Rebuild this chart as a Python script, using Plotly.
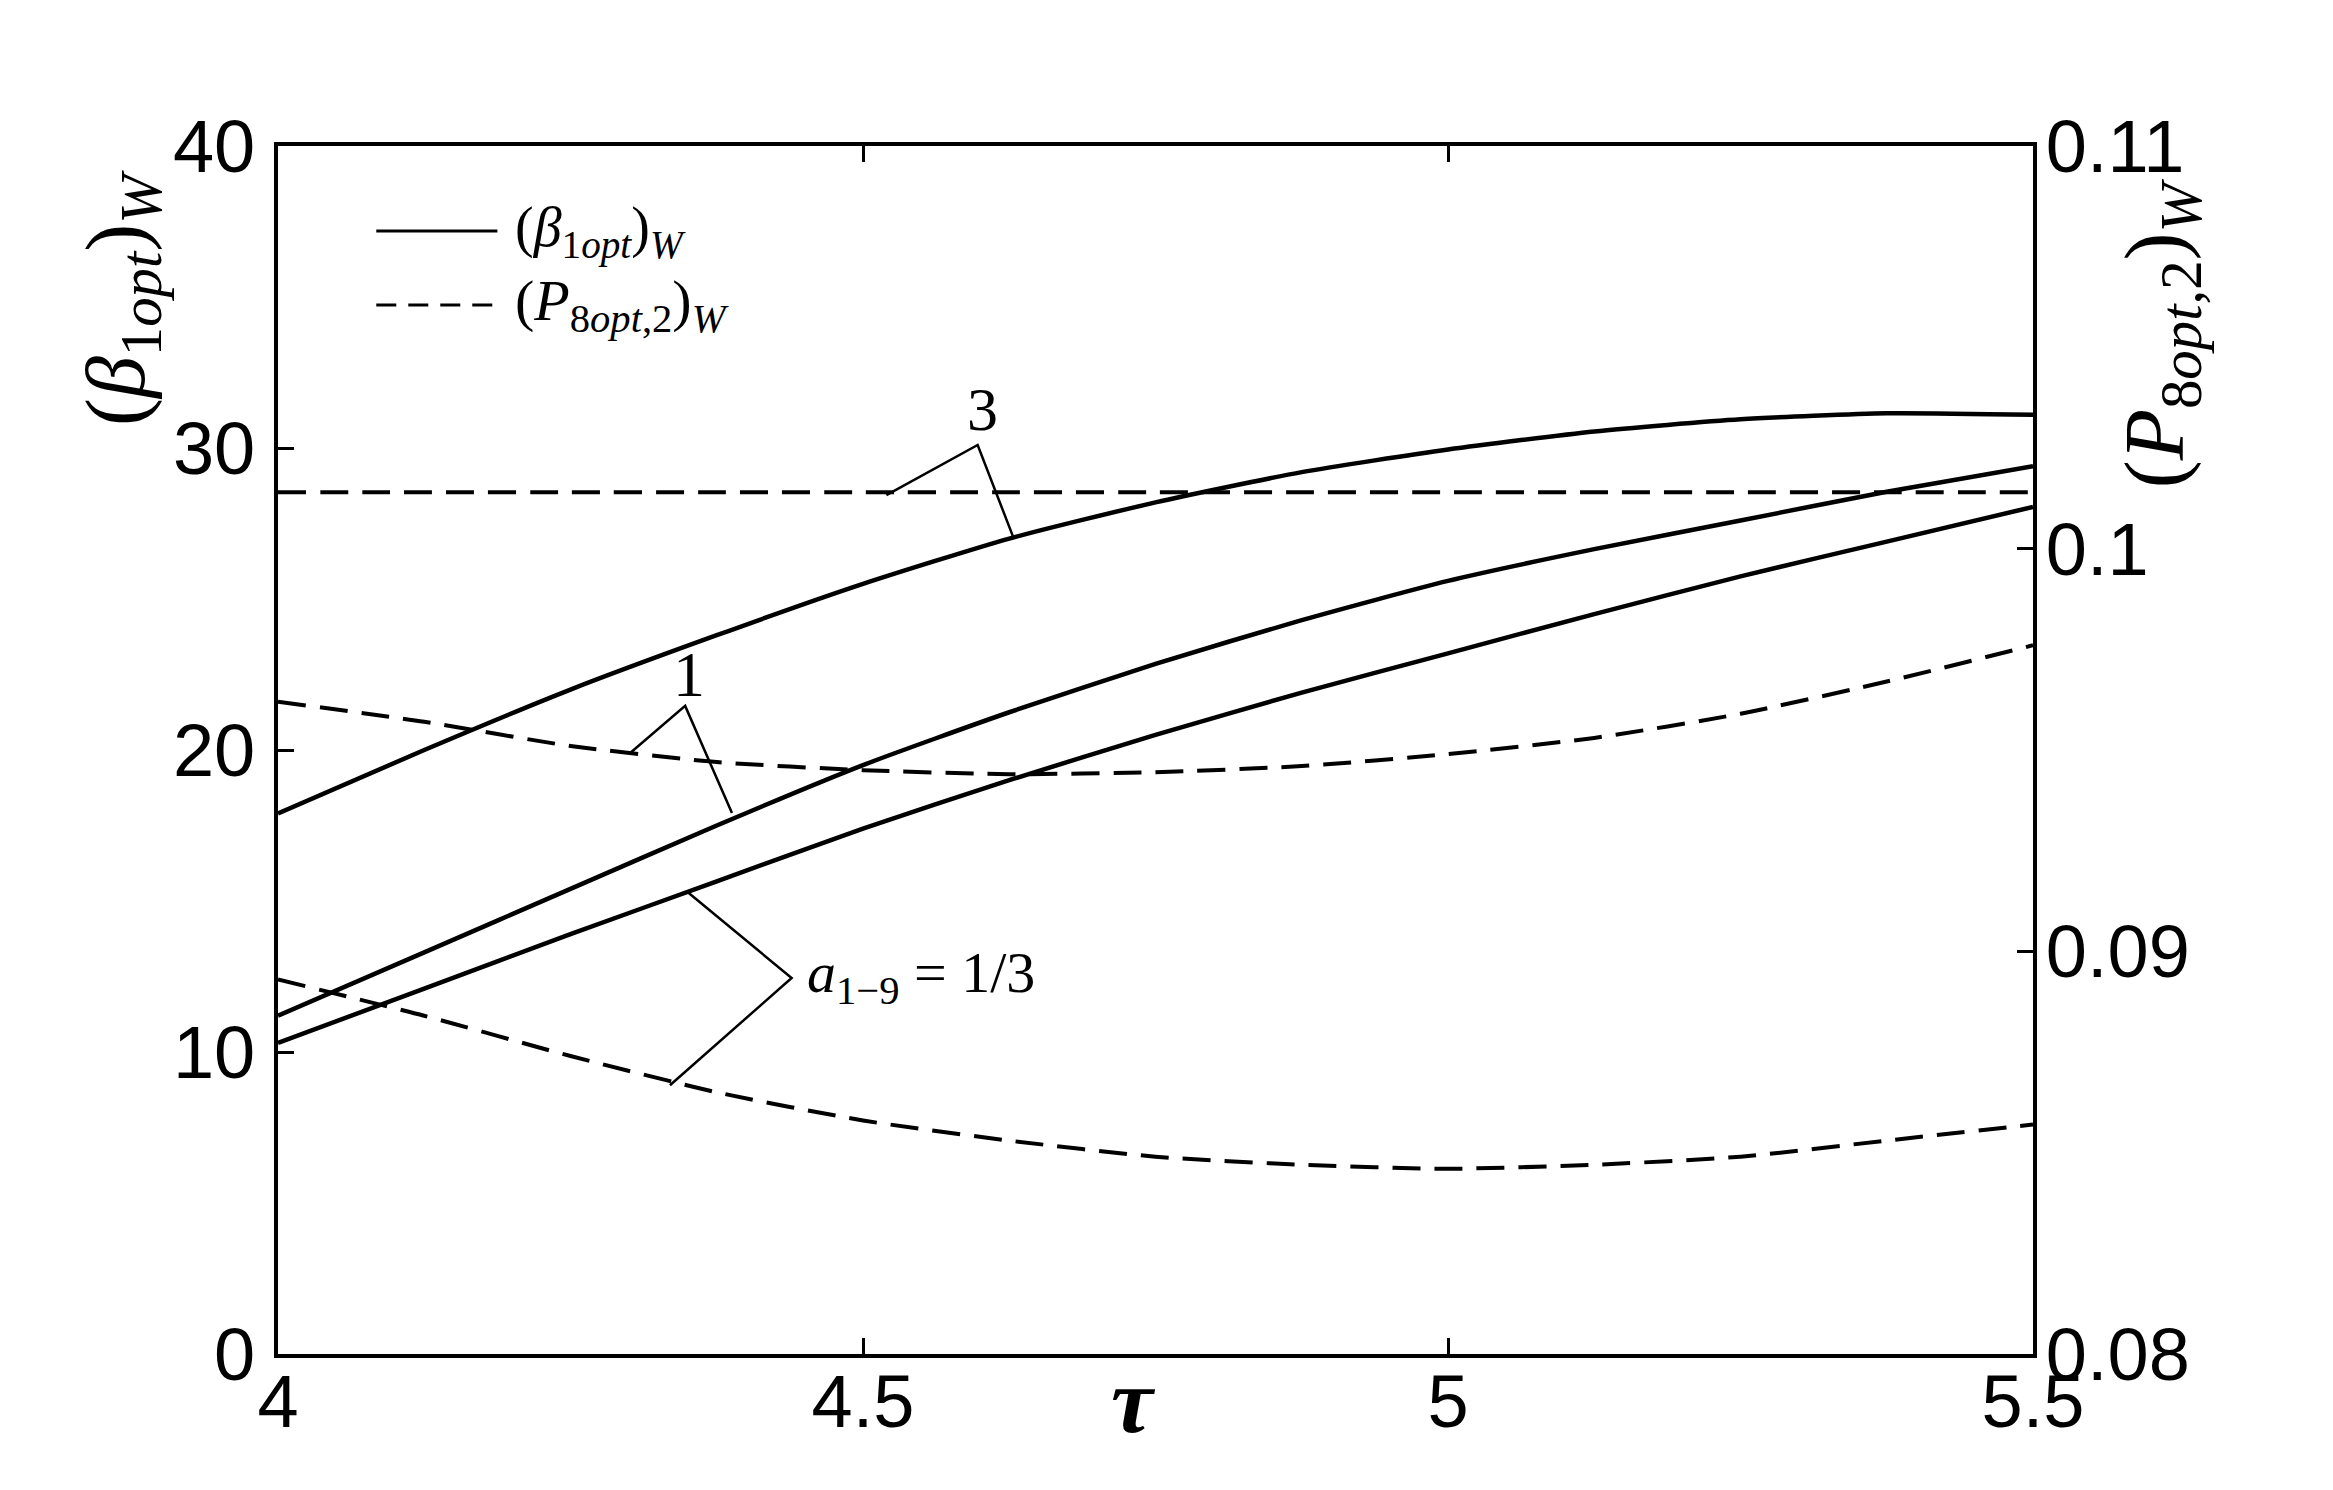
import plotly.graph_objects as go

# tau grid (x axis)
tau = [4.0, 4.125, 4.25, 4.375, 4.5, 4.625, 4.75, 4.875, 5.0, 5.125, 5.25, 5.375, 5.5]

# (beta_1opt)_W, left axis
beta_3 = [17.9, 20.0, 22.0, 23.8, 25.5, 27.0, 28.2, 29.2, 29.95, 30.55, 30.95, 31.15, 31.1]
beta_1 = [11.2, 13.3, 15.4, 17.5, 19.5, 21.25, 22.85, 24.3, 25.6, 26.65, 27.6, 28.55, 29.4]
beta_13 = [10.3, 12.1, 13.9, 15.65, 17.4, 19.0, 20.5, 21.9, 23.2, 24.5, 25.75, 26.9, 28.05]

# (P_8opt,2)_W, right axis
p_3 = [0.1014, 0.1014, 0.1014, 0.1014, 0.1014, 0.1014, 0.1014,
       0.1014, 0.1014, 0.1014, 0.1014, 0.1014, 0.1014]
p_1 = [0.0962, 0.0957, 0.0951, 0.0947, 0.0945, 0.0944, 0.09445,
       0.0946, 0.0949, 0.0953, 0.0959, 0.0967, 0.0976]
p_13 = [0.0893, 0.0884, 0.0874, 0.0865, 0.0858, 0.0853, 0.0849,
        0.0847, 0.0846, 0.0847, 0.0849, 0.0853, 0.0857]

x_ticks = [4, 4.5, 5, 5.5]
x_ticktext = ["4", "4.5", "5", "5.5"]
y_ticks = [0, 10, 20, 30, 40]
y2_ticks = [0.08, 0.09, 0.1, 0.11]
y2_ticktext = ["0.08", "0.09", "0.1", "0.11"]

SERIF = "Liberation Serif, Times New Roman, serif"
SANS = "Liberation Sans, Arial, sans-serif"
DASH = "28px,14px"
BETA_NAME = "(<i>β</i><sub>1<i>opt</i></sub>)<sub><i>W</i></sub>"
P_NAME = "(<i>P</i><sub>8<i>opt</i>,2</sub>)<sub><i>W</i></sub>"

fig = go.Figure()

for b in [beta_3, beta_1, beta_13]:
    fig.add_trace(go.Scatter(
        x=tau, y=b, mode="lines", yaxis="y", name=BETA_NAME, showlegend=False,
        line=dict(color="black", width=4.5, shape="spline", smoothing=0.6),
    ))

for p in [p_3, p_1, p_13]:
    fig.add_trace(go.Scatter(
        x=tau, y=p, mode="lines", yaxis="y2", name=P_NAME, showlegend=False,
        line=dict(color="black", width=4, dash=DASH, shape="spline", smoothing=0.6),
    ))

# legend, drawn by hand so the sample lines are long like the original
fig.add_shape(type="line", xref="paper", yref="paper", x0=0.056, x1=0.125,
              y0=0.9296, y1=0.9296, line=dict(color="black", width=3))
fig.add_shape(type="line", xref="paper", yref="paper", x0=0.056, x1=0.125,
              y0=0.8684, y1=0.8684, line=dict(color="black", width=3, dash="20px,12px"))
fig.add_annotation(x=0.134, y=0.9296, xref="paper", yref="paper", xanchor="left",
                   yanchor="middle", text=BETA_NAME, showarrow=False,
                   font=dict(family=SERIF, size=56, color="black"))
fig.add_annotation(x=0.134, y=0.8684, xref="paper", yref="paper", xanchor="left",
                   yanchor="middle", text=P_NAME, showarrow=False,
                   font=dict(family=SERIF, size=58, color="black"))

# leader lines for curve labels (left-axis data coords)
leaders = [
    "M 4.520 28.44 L 4.598 30.1 L 4.628 27.09",
    "M 4.301 19.9 L 4.348 21.46 L 4.388 17.91",
    "M 4.350 15.3 L 4.439 12.45 L 4.335 8.9",
]
for path in leaders:
    fig.add_shape(type="path", path=path, xref="x", yref="y",
                  line=dict(color="black", width=2.5))

fig.add_annotation(x=4.602, y=31.3, xref="x", yref="y", text="3", showarrow=False,
                   xanchor="center", yanchor="middle",
                   font=dict(family=SERIF, size=62, color="black"))
fig.add_annotation(x=4.351, y=22.5, xref="x", yref="y", text="1", showarrow=False,
                   xanchor="center", yanchor="middle",
                   font=dict(family=SERIF, size=64, color="black"))
fig.add_annotation(x=4.450, y=12.5, xref="x", yref="y", xanchor="left", yanchor="middle",
                   text="<i>a</i><sub>1−9</sub> = 1/3", showarrow=False,
                   font=dict(family=SERIF, size=58, color="black"))

# axis titles
fig.add_annotation(x=-0.089, y=0.874, xref="paper", yref="paper", textangle=-90,
                   xanchor="center", yanchor="middle", text=BETA_NAME,
                   showarrow=False, font=dict(family=SERIF, size=84, color="black"))
fig.add_annotation(x=1.073, y=0.845, xref="paper", yref="paper", textangle=-90,
                   xanchor="center", yanchor="middle", text=P_NAME,
                   showarrow=False, font=dict(family=SERIF, size=84, color="black"))
fig.add_annotation(x=0.4877, y=-0.038, xref="paper", yref="paper",
                   xanchor="center", yanchor="middle",
                   text="<b><i>τ</i></b>", showarrow=False,
                   font=dict(family=SERIF, size=94, color="black"))

axis_common = dict(showgrid=False, zeroline=False, showline=True, linecolor="black",
                   linewidth=4, ticks="inside", ticklen=16, tickwidth=3,
                   tickcolor="black", automargin=False,
                   tickfont=dict(family=SANS, size=74, color="black"))

fig.update_layout(
    width=2333, height=1490,
    margin=dict(l=270, r=308, t=138, b=144),
    paper_bgcolor="white", plot_bgcolor="white",
    showlegend=False,
    xaxis=dict(range=[4, 5.5], tickvals=x_ticks, ticktext=x_ticktext,
               mirror="ticks", ticklabelstandoff=-20, **axis_common),
    yaxis=dict(range=[0, 40], tickvals=y_ticks, ticklabelstandoff=4, **axis_common),
    yaxis2=dict(range=[0.08, 0.11], tickvals=y2_ticks, ticktext=y2_ticktext,
                overlaying="y", side="right", ticklabelstandoff=-6, **axis_common),
)

fig.write_html("out.html")
